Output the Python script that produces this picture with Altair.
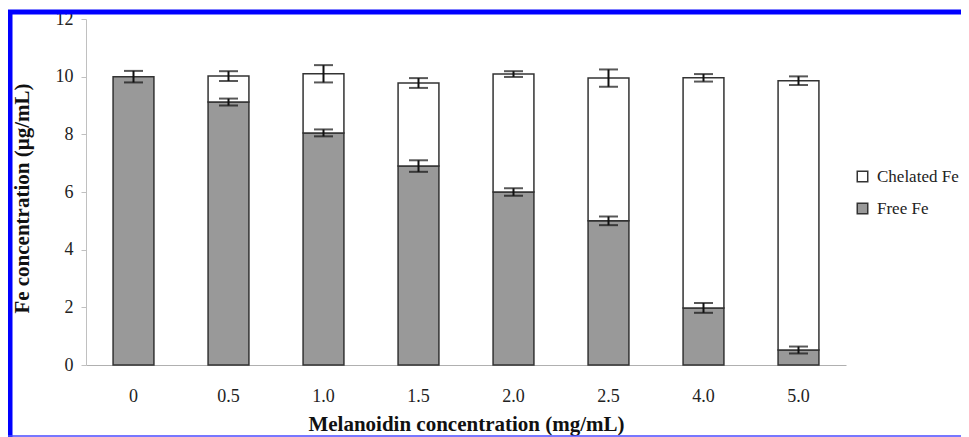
import altair as alt
import pandas as pd

# --- data ---
conc = ["0", "0.5", "1.0", "1.5", "2.0", "2.5", "4.0", "5.0"]
free_fe = [10.0, 9.12, 8.05, 6.9, 6.0, 5.0, 1.98, 0.52]
free_err = [0.2, 0.12, 0.12, 0.2, 0.13, 0.15, 0.17, 0.12]
chelated_fe = [0.0, 0.9, 2.05, 2.88, 4.09, 4.95, 7.98, 9.34]
total_err = [None, 0.17, 0.3, 0.17, 0.1, 0.3, 0.13, 0.15]

series_names = ["Chelated Fe", "Free Fe"]

rows = []
for c, f, ch in zip(conc, free_fe, chelated_fe):
    rows.append({"conc": c, "series": "Free Fe", "y0": 0.0, "y1": f})
    if ch > 0:
        rows.append({"conc": c, "series": "Chelated Fe", "y0": f, "y1": f + ch})
bars_df = pd.DataFrame(rows)

err_rows = []
for c, f, fe, ch, te in zip(conc, free_fe, free_err, chelated_fe, total_err):
    err_rows.append({"conc": c, "lo": f - fe, "hi": f + fe})
    if te is not None and ch > 0:
        t = f + ch
        err_rows.append({"conc": c, "lo": t - te, "hi": t + te})
err_df = pd.DataFrame(err_rows)

SERIF = "Liberation Serif"

x_enc = alt.X(
    "conc:N",
    sort=conc,
    scale=alt.Scale(paddingInner=0.57, paddingOuter=0.285),
    axis=alt.Axis(
        title="Melanoidin concentration (mg/mL)",
        labelAngle=0,
        ticks=False,
        tickSize=0,
        labelPadding=36,
        labelBaseline="alphabetic",
        labelFont=SERIF,
        labelFontSize=18,
        labelColor="#222222",
        domainColor="#b0b0b0",
        domainWidth=1,
        titleFont=SERIF,
        titleFontSize=21,
        titleFontWeight="bold",
        titleColor="#111111",
        titleBaseline="alphabetic",
        titleY=65,
    ),
)

y_scale = alt.Scale(domain=[0, 12], nice=False)
y_axis = alt.Axis(
    title="Fe concentration (µg/mL)",
    values=[0, 2, 4, 6, 8, 10, 12],
    format="d",
    grid=False,
    tickSize=5,
    tickColor="#c0c0c0",
    domainColor="#c0c0c0",
    labelPadding=8,
    labelFont=SERIF,
    labelFontSize=18,
    labelColor="#222222",
    titleFont=SERIF,
    titleFontSize=21,
    titleFontWeight="bold",
    titleColor="#111111",
    titleAngle=270,
    titleAlign="center",
    titleBaseline="alphabetic",
    titleX=-58,
    titleY=179,
)

bars = alt.Chart(bars_df).mark_bar(
    stroke="#333333", strokeWidth=1.5
).encode(
    x=x_enc,
    y=alt.Y("y0:Q", scale=y_scale, axis=y_axis),
    y2="y1:Q",
    fill=alt.Fill(
        "series:N",
        scale=alt.Scale(domain=series_names, range=["#ffffff", "#999999"]),
        legend=alt.Legend(
            title=None,
            orient="none",
            legendX=768,
            legendY=149,
            symbolType="square",
            symbolSize=110,
            symbolStrokeColor="#333333",
            symbolStrokeWidth=1.5,
            labelFont=SERIF,
            labelFontSize=17,
            labelColor="#222222",
            labelOffset=6,
            rowPadding=14,
        ),
    ),
)

err_rule = alt.Chart(err_df).mark_rule(color="#111111", strokeWidth=2).encode(
    x=alt.X("conc:N", sort=conc),
    y=alt.Y("lo:Q", scale=y_scale),
    y2="hi:Q",
)
err_lo = alt.Chart(err_df).mark_tick(color="#111111", thickness=2, size=19).encode(
    x=alt.X("conc:N", sort=conc),
    y=alt.Y("lo:Q", scale=y_scale),
)
err_hi = alt.Chart(err_df).mark_tick(color="#111111", thickness=2, size=19).encode(
    x=alt.X("conc:N", sort=conc),
    y=alt.Y("hi:Q", scale=y_scale),
)

# blue frame of the picture
frame_df = pd.DataFrame({"k": [0]})
frame_top = alt.Chart(frame_df).mark_rule(color="#0000ff", strokeWidth=5).encode(
    x=alt.value(-78), x2=alt.value(875), y=alt.value(-7)
)
frame_left = alt.Chart(frame_df).mark_rule(color="#0000ff", strokeWidth=5).encode(
    x=alt.value(-76), y=alt.value(-9), y2=alt.value(418)
)
frame_bottom = alt.Chart(frame_df).mark_rule(color="#4a4aff", strokeWidth=1.5).encode(
    x=alt.value(-78), x2=alt.value(875), y=alt.value(417)
)

chart = alt.layer(
    bars, err_rule, err_lo, err_hi, frame_top, frame_left, frame_bottom
).properties(
    width=760,
    height=346,
    autosize=alt.AutoSizeParams(type="none"),
    padding={"left": 78, "top": 11, "right": 115, "bottom": 72},
    background="white",
).configure_view(stroke=None)

chart.save("out.html", embed_options={"renderer": "svg", "actions": False})
